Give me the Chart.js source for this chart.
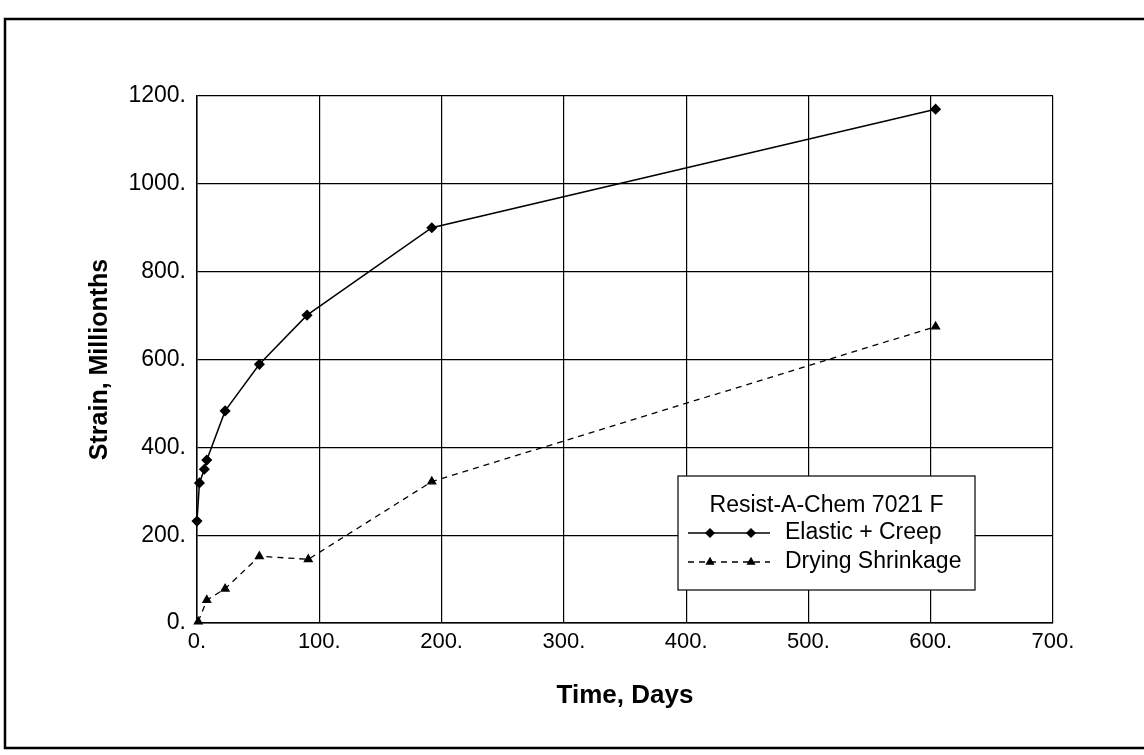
<!DOCTYPE html>
<html>
<head>
<meta charset="utf-8">
<script src="https://cdn.jsdelivr.net/npm/chart.js@4"></script>
<style>
  html, body { margin: 0; padding: 0; background: #fff; }
  #wrap { width: 1144px; height: 755px; position: relative; }
</style>
</head>
<body>
<div id="wrap"><canvas id="chart" width="1144" height="755"></canvas></div>
<script>
// creep test readings
const elasticDays = [0, 2, 6, 8, 23, 51, 90, 192, 604];
const elasticStrain = [232, 319, 350, 371, 483, 589, 701, 900, 1170];
const shrinkDays = [1, 8, 23, 51, 91, 192, 604];
const shrinkStrain = [3, 52, 78, 152, 145, 322, 675];

const xTicks = [0, 100, 200, 300, 400, 500, 600, 700];
const yTicks = [0, 200, 400, 600, 800, 1000, 1200];

const legendTitle = 'Resist-A-Chem 7021 F';
const FONT = "'Liberation Sans', Arial, Helvetica, sans-serif";

const toPoints = (xs, ys) => xs.map((x, i) => ({ x: x, y: ys[i] }));

// outer frame around the figure
const framePlugin = {
    id: 'frame',
    beforeDraw(chart) {
        const ctx = chart.ctx;
        ctx.save();
        ctx.strokeStyle = '#000';
        ctx.lineWidth = 2.5;
        ctx.beginPath();
        ctx.moveTo(1144, 19);
        ctx.lineTo(5, 19);
        ctx.lineTo(5, 748);
        ctx.lineTo(1144, 748);
        ctx.stroke();
        ctx.restore();
    }
};

// boxed legend with a title and two markers per sample line
const boxLegend = {
    id: 'boxLegend',
    afterDraw(chart) {
        const ctx = chart.ctx;
        const x0 = 678, y0 = 476, w = 297, h = 114;
        ctx.save();
        ctx.fillStyle = '#fff';
        ctx.fillRect(x0, y0, w, h);
        ctx.strokeStyle = '#000';
        ctx.lineWidth = 1.2;
        ctx.strokeRect(x0, y0, w, h);

        ctx.fillStyle = '#000';
        ctx.font = '23px ' + FONT;
        ctx.textAlign = 'center';
        ctx.textBaseline = 'middle';
        ctx.fillText(legendTitle, x0 + w / 2, y0 + 30);

        chart.data.datasets.forEach((ds, i) => {
            const y = y0 + 57 + i * 29;
            ctx.strokeStyle = ds.borderColor;
            ctx.lineWidth = ds.borderWidth;
            ctx.setLineDash(ds.borderDash || []);
            ctx.beginPath();
            ctx.moveTo(x0 + 10, y);
            ctx.lineTo(x0 + 92, y);
            ctx.stroke();
            ctx.setLineDash([]);
            [x0 + 32, x0 + 73].forEach(mx => {
                Chart.helpers.drawPoint(ctx, {
                    pointStyle: ds.pointStyle,
                    radius: ds.pointRadius - 0.5,
                    borderWidth: 1
                }, mx, y);
            });
            ctx.fillStyle = '#000';
            ctx.textAlign = 'left';
            ctx.fillText(ds.label, x0 + 107, y);
        });
        ctx.restore();
    }
};

new Chart(document.getElementById('chart'), {
    type: 'line',
    data: {
        datasets: [
            {
                label: 'Elastic + Creep',
                data: toPoints(elasticDays, elasticStrain),
                borderColor: '#000',
                backgroundColor: '#000',
                borderWidth: 1.5,
                pointStyle: 'rectRot',
                pointRadius: 4.5,
                pointBackgroundColor: '#000',
                pointBorderColor: '#000',
                tension: 0,
                clip: false
            },
            {
                label: 'Drying Shrinkage',
                data: toPoints(shrinkDays, shrinkStrain),
                borderColor: '#000',
                backgroundColor: '#000',
                borderWidth: 1.3,
                borderDash: [6, 5],
                pointStyle: 'triangle',
                pointRadius: 4.5,
                pointBackgroundColor: '#000',
                pointBorderColor: '#000',
                tension: 0,
                clip: false
            }
        ]
    },
    options: {
        responsive: false,
        animation: false,
        events: [],
        layout: {
            padding: { top: 96, right: 91, bottom: 0, left: 0 }
        },
        plugins: {
            legend: { display: false },
            tooltip: { enabled: false }
        },
        scales: {
            x: {
                type: 'linear',
                min: 0,
                max: 700,
                afterBuildTicks: (scale) => { scale.ticks = xTicks.map(v => ({ value: v })); },
                afterFit: (scale) => { scale.height = 132; },
                ticks: {
                    color: '#000',
                    font: { family: FONT, size: 22 },
                    padding: 6,
                    maxRotation: 0,
                    callback: (v) => v + '.'
                },
                grid: { color: '#000', lineWidth: 1.2, drawTicks: false },
                border: { color: '#000', width: 1.5 },
                title: {
                    display: true,
                    text: 'Time, Days',
                    color: '#000',
                    font: { family: FONT, size: 26, weight: 'bold' },
                    padding: { top: 0, bottom: 44 }
                }
            },
            y: {
                type: 'linear',
                min: 0,
                max: 1200,
                afterBuildTicks: (scale) => { scale.ticks = yTicks.map(v => ({ value: v })); },
                afterFit: (scale) => { scale.width = 197; },
                ticks: {
                    color: '#000',
                    font: { family: FONT, size: 23 },
                    padding: 11,
                    callback: (v) => v + '.'
                },
                grid: { color: '#000', lineWidth: 1.2, drawTicks: false },
                border: { color: '#000', width: 1.5 },
                title: {
                    display: true,
                    text: 'Strain, Millionths',
                    color: '#000',
                    font: { family: FONT, size: 25, weight: 'bold' },
                    padding: { top: 85, bottom: 0 }
                }
            }
        }
    },
    plugins: [framePlugin, boxLegend]
});
</script>
</body>
</html>
